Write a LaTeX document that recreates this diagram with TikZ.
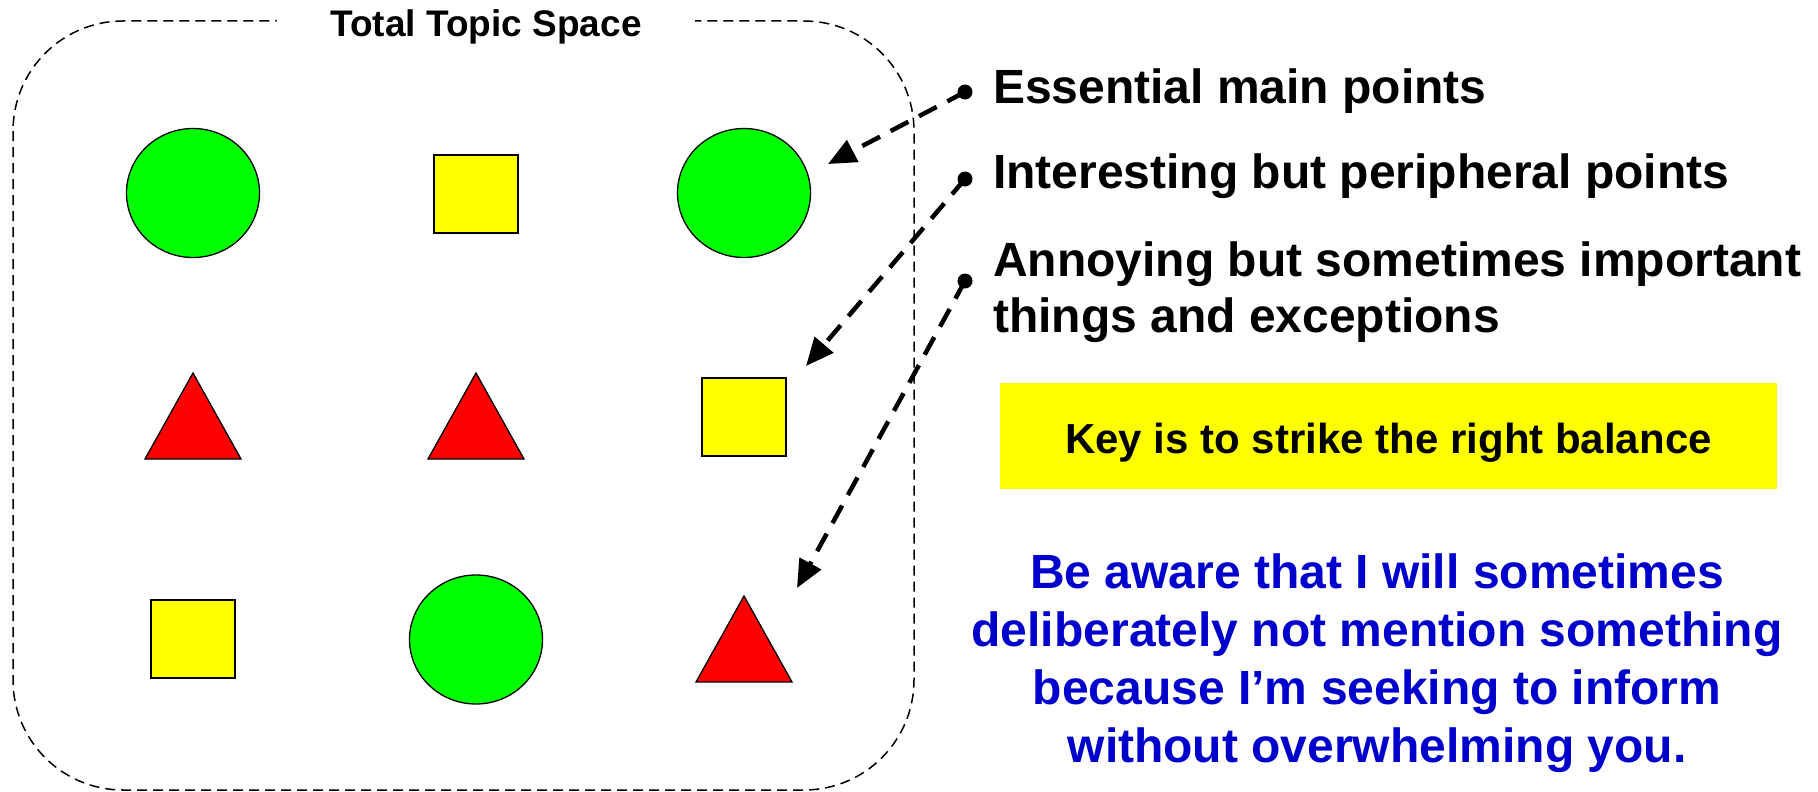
\documentclass[tikz,border=0pt]{standalone}
\usepackage{fontspec}
\setmainfont{Liberation Sans}
\usetikzlibrary{shapes.geometric,arrows.meta}
\definecolor{shgreen}{RGB}{0,255,0}
\definecolor{shyellow}{RGB}{255,255,0}
\definecolor{shred}{RGB}{255,0,0}
\definecolor{shblue}{RGB}{0,0,204}
\begin{document}
\begin{tikzpicture}[x=1pt,y=-1pt,
  spacebox/.style={draw=black,line width=1.5pt,dash pattern=on 10pt off 6pt,rounded corners=110pt},
  circ/.style={ellipse,draw=black,line width=1.3pt,fill=shgreen,minimum width=133pt,minimum height=129pt,inner sep=0pt},
  sq/.style={rectangle,draw=black,line width=1.3pt,fill=shyellow,minimum width=84pt,minimum height=78pt,inner sep=0pt},
  tri/.style={draw=black,line width=1.3pt,fill=shred,line join=miter},
  dotnode/.style={circle,fill=black,inner sep=0pt,minimum size=15pt},
  pointer/.style={line width=4.5pt,dash pattern=on 20pt off 12pt,-{Triangle[length=28pt,width=24pt]}},
  label/.style={anchor=base west,inner sep=0pt,font=\fontsize{48}{56}\selectfont\bfseries},
]
\useasboundingbox (0,0) rectangle (1818,792);

% total topic space outline
\draw[spacebox] (13,21) rectangle (914,790);
\node[fill=white,minimum width=418pt,inner sep=0pt,anchor=base,
      font=\fontsize{37}{44}\selectfont\bfseries] (title) at (486,37) {Total Topic Space};

% row 1
\node[circ] (c11) at (193,193) {};
\node[sq] (s12) at (476,194) {};
\node[circ] (c13) at (744,193) {};
% row 2
\draw[tri] (193,373) -- (241,459) -- (145,459) -- cycle;
\coordinate (t21) at (193,416);
\draw[tri] (476,373) -- (524,459) -- (428,459) -- cycle;
\coordinate (t22) at (476,416);
\node[sq] (s23) at (744,417) {};
% row 3
\node[sq] (s31) at (193,639) {};
\node[circ] (c32) at (476,639.5) {};
\draw[tri] (744,596) -- (792,682) -- (696,682) -- cycle;
\coordinate (t33) at (744,639);

% labels
\node[dotnode] (d1) at (965,92) {};
\node[dotnode] (d2) at (965,179) {};
\node[dotnode] (d3) at (965,281) {};
\node[label] (l1) at (993,103) {Essential main points};
\node[label] (l2) at (993,188) {Interesting but peripheral points};
\node[label,align=left] (l3) at (993,332) {Annoying but sometimes important\\things and exceptions};

% pointers
\coordinate (p1) at (828,164);
\coordinate (p2) at (806,366);
\coordinate (p3) at (797,588);
\draw[pointer] (d1.center) -- (p1);
\draw[pointer] (d2.center) -- (p2);
\draw[pointer] (d3.center) -- (p3);

% key box
\node[fill=shyellow,minimum width=777pt,minimum height=106pt,inner sep=0pt,
      text height=34pt,text depth=0pt,
      font=\fontsize{42}{50}\selectfont\bfseries] (key) at (1388.5,436) {Key is to strike the right balance};

% note
\node[anchor=base,align=center,inner sep=0pt,text=shblue,
      font=\fontsize{48}{58}\selectfont\bfseries] (note) at (1377,762)
  {Be aware that I will sometimes\\deliberately not mention something\\because I’m seeking to inform\\without overwhelming you.};
\end{tikzpicture}
\end{document}
